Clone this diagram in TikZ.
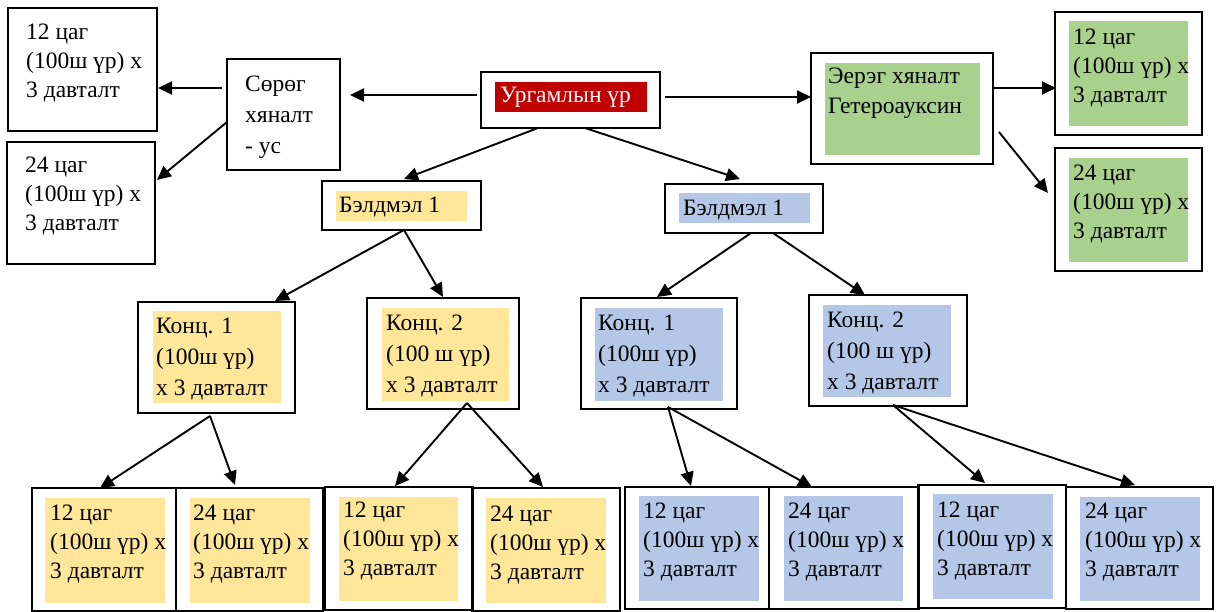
\documentclass[tikz,border=0pt]{standalone}
\usepackage{fontspec}
\setmainfont{Liberation Serif}
\usetikzlibrary{arrows.meta,calc}

\definecolor{ylw}{HTML}{FFE699}
\definecolor{blu}{HTML}{B4C7E7}
\definecolor{grn}{HTML}{A9D18E}
\definecolor{rd}{HTML}{C00000}

% a framed box given by its corners (x1,y1)-(x2,y2), y growing downwards
\newcommand\frm[5]{\node[frame, minimum width={#4-#2}, minimum height={#5-#3}] (#1) at (#2,#3) {};}
% a point given relative to the north-west corner of a box
\newcommand\on[3]{($(#1.north west)+(#2,#3)$)}

\tikzset{
  frame/.style={draw, line width=1.8pt, anchor=north west, inner sep=0pt, outer sep=0pt},
  txt/.style={anchor=north west, inner sep=0pt, align=left, font=\rmfamily\fontsize{23.5}{29}\selectfont},
  ktxt/.style={txt, font=\rmfamily\fontsize{23.5}{31}\selectfont},
  arr/.style={-{Triangle[length=14pt,width=13pt]}, line width=1.9pt},
}

\begin{document}
\begin{tikzpicture}[x=1pt,y=-1pt]
\useasboundingbox (0,0) rectangle (1221,612);

% ---- top row ----
\frm{a12}{8}{8}{157}{131}
\node[txt] (a12t) at (26,24) {12 цаг\\(100ш үр) х\\3 давталт};
\frm{a24}{7}{142}{155}{264}
\node[txt] (a24t) at (25,157) {24 цаг\\(100ш үр) х\\3 давталт};

\frm{sor}{227}{59}{340}{170}
\node[ktxt] (sort) at (245,76) {Сөрөг\\хяналт\\- ус};

\frm{ur}{481}{72}{660}{128}
\fill[rd] (495,82) rectangle (647,112);
\node[txt, text=white] (urt) at (500,87) {Ургамлын үр};

\frm{eer}{811}{53}{993}{164}
\fill[grn] (825,63) rectangle (980,155);
\node[txt, font=\rmfamily\fontsize{23.5}{30}\selectfont] (eert) at (828,68) {Эерэг хяналт\\Гетероауксин};

\frm{c12}{1055}{12}{1202}{135}
\fill[grn] (1069,21) rectangle (1188,126);
\node[txt] (c12t) at (1073,29) {12 цаг\\(100ш үр) х\\3 давталт};
\frm{c24}{1055}{148}{1202}{271}
\fill[grn] (1069,158) rectangle (1188,262);
\node[txt] (c24t) at (1073,165) {24 цаг\\(100ш үр) х\\3 давталт};

% ---- preparations ----
\frm{yb}{322}{181}{481}{230}
\fill[ylw] (336,191) rectangle (467,221);
\node[txt] (ybt) at (339,197) {Бэлдмэл 1};
\frm{bb}{665}{184}{823}{233}
\fill[blu] (679,193) rectangle (810,223);
\node[txt] (bbt) at (683,200) {Бэлдмэл 1};

% ---- concentrations ----
\frm{yk1}{138}{302}{295}{413}
\fill[ylw] (153,311) rectangle (281,403);
\node[ktxt] (yk1t) at (156,318) {Конц. 1\\(100ш үр)\\х 3 давталт};
\frm{yk2}{367}{298}{519}{409}
\fill[ylw] (382,308) rectangle (509,401);
\node[ktxt] (yk2t) at (386,315) {Конц. 2\\(100 ш үр)\\х 3 давталт};
\frm{bk1}{581}{298}{737}{409}
\fill[blu] (595,308) rectangle (723,401);
\node[ktxt] (bk1t) at (598,315) {Конц. 1\\(100ш үр)\\х 3 давталт};
\frm{bk2}{809}{295}{967}{406}
\fill[blu] (823,305) rectangle (951,397);
\node[ktxt] (bk2t) at (827,312) {Конц. 2\\(100 ш үр)\\х 3 давталт};

% ---- exposure times ----
\fill[ylw] (45,498) rectangle (165,603);
\fill[ylw] (190,498) rectangle (310,603);
\fill[ylw] (339,497) rectangle (458,601);
\fill[ylw] (486,498) rectangle (606,603);
\fill[blu] (639,496) rectangle (759,601);
\fill[blu] (784,496) rectangle (903,601);
\fill[blu] (933,494) rectangle (1053,599);
\fill[blu] (1080,497) rectangle (1200,601);
\frm{y1}{32}{488}{176}{611}
\frm{y2}{176}{488}{323}{611}
\frm{y3}{325}{487}{473}{610}
\frm{y4}{472}{488}{620}{611}
\frm{b1}{625}{487}{769}{609}
\frm{b2}{769}{487}{919}{609}
\frm{b3}{918}{485}{1066}{608}
\frm{b4}{1066}{487}{1213}{609}
\node[txt] (y1t) at (50,505) {12 цаг\\(100ш үр) х\\3 давталт};
\node[txt] (y2t) at (193,505) {24 цаг\\(100ш үр) х\\3 давталт};
\node[txt] (y3t) at (343,502) {12 цаг\\(100ш үр) х\\3 давталт};
\node[txt] (y4t) at (490,506) {24 цаг\\(100ш үр) х\\3 давталт};
\node[txt] (b1t) at (643,503) {12 цаг\\(100ш үр) х\\3 давталт};
\node[txt] (b2t) at (788,503) {24 цаг\\(100ш үр) х\\3 давталт};
\node[txt] (b3t) at (937,502) {12 цаг\\(100ш үр) х\\3 давталт};
\node[txt] (b4t) at (1085,503) {24 цаг\\(100ш үр) х\\3 давталт};

% ---- connectors ----
\draw[arr] \on{ur}{-4}{23} -- \on{sor}{123}{36};
\draw[arr] \on{ur}{184}{25} -- \on{eer}{0}{44};
\draw[arr] \on{ur}{57}{56} -- \on{yb}{82}{-2};
\draw[arr] \on{ur}{104}{56} -- \on{bb}{75}{-5};
\draw[arr] \on{sor}{-5}{29} -- \on{a12}{150}{80};
\draw[arr] \on{sor}{0}{63} -- \on{a24}{150}{38};
\draw[arr] \on{eer}{183}{35} -- \on{c12}{1}{76};
\draw[arr] \on{eer}{188}{79} -- \on{c24}{-7}{45};
\draw[arr] \on{yb}{82}{49} -- \on{yk1}{137}{-1};
\draw[arr] \on{yb}{82}{49} -- \on{yk2}{76}{-1};
\draw[arr] \on{bb}{86}{49} -- \on{bk1}{76}{-1};
\draw[arr] \on{bb}{108}{49} -- \on{bk2}{56}{0};
\draw[arr] \on{yk1}{72}{114} -- \on{y1}{68}{0};
\draw[arr] \on{yk1}{72}{114} -- \on{y2}{59}{-3};
\draw[arr] \on{yk2}{100}{105} -- \on{y3}{70}{-1};
\draw[arr] \on{yk2}{100}{105} -- \on{y4}{71}{-1};
\draw[arr] \on{bk1}{87}{109} -- \on{b1}{66}{-1};
\draw[arr] \on{bk1}{87}{109} -- \on{b2}{43}{0};
\draw[arr] \on{bk2}{84}{110} -- \on{b3}{67}{-2};
\draw[arr] \on{bk2}{84}{110} -- \on{b4}{69}{-2};
\end{tikzpicture}
\end{document}
